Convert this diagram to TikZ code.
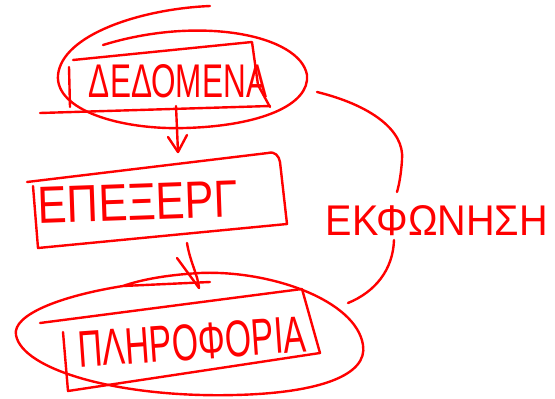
\documentclass[tikz,border=0pt]{standalone}
\usepackage{fontspec}
\setmainfont{Liberation Sans}
\begin{document}
\begin{tikzpicture}[x=1pt,y=-1pt,
  ink/.style={draw=red, line width=2.4pt, line cap=round, line join=round},
  lbl/.style={text=red, inner sep=0pt}]
\useasboundingbox (0,0) rectangle (555,399);

% labels
\node[lbl] (dedomena) at (178,81) {\resizebox{178pt}{33pt}{ΔΕΔΟΜΕΝΑ}};
\node[lbl, rotate=2] (epexerg) at (138,202) {\resizebox{200pt}{36pt}{ΕΠΕΞΕΡΓ}};
\node[lbl, rotate=4] (pliroforia) at (192,342) {\resizebox{228pt}{36pt}{ΠΛΗΡΟΦΟΡΙΑ}};
\node[lbl] (ekfonisi) at (437,221) {\resizebox{222pt}{30pt}{ΕΚΦΩΝΗΣΗ}};

% ellipse and frame around the data
\draw[ink] (210,6) .. controls (140,9) and (62,35) .. (58,75)
  .. controls (55,110) and (120,130) .. (185,128)
  .. controls (260,126) and (310,105) .. (307,75)
  .. controls (300,35) and (200,15) .. (103,45);
\draw[ink] (73,60) -- (252,42) -- (258,85) -- (270,107);
\draw[ink] (40,113) -- (270,106);
\draw[ink] (69,67) -- (70,107);

% arrow to processing
\coordinate (a1s) at (176,106);
\coordinate (a1e) at (178,152);
\draw[ink] (a1s) -- (a1e);
\draw[ink] (168,137) -- (a1e) -- (187,135);

% processing frame
\draw[ink] (27,182) -- (268,153) .. controls (275,151) and (279,156) .. (280,162)
  -- (287,224) -- (38,248) -- (33,186);

% arrow to information
\coordinate (a2s) at (187,243);
\coordinate (a2e) at (199,288);
\draw[ink] (a2s) .. controls (190,262) and (198,275) .. (a2e);
\draw[ink] (177,258) -- (a2e);

% ellipse and frame around the information
\draw[ink] (210,282) -- (123,286) .. controls (60,296) and (12,315) .. (16,335)
  .. controls (22,370) and (120,398) .. (235,395)
  .. controls (320,393) and (368,375) .. (363,345)
  .. controls (356,300) and (270,270) .. (200,273)
  .. controls (165,275) and (140,280) .. (123,286);
\draw[ink] (40,323) -- (302,289) -- (320,353) -- (68,391) -- (63,332);

% brace towards the statement
\draw[ink] (317,92) .. controls (370,105) and (405,130) .. (402,160)
  .. controls (401,175) and (399,185) .. (397,192);
\draw[ink] (394,240) .. controls (393,270) and (375,292) .. (348,303);
\end{tikzpicture}
\end{document}
